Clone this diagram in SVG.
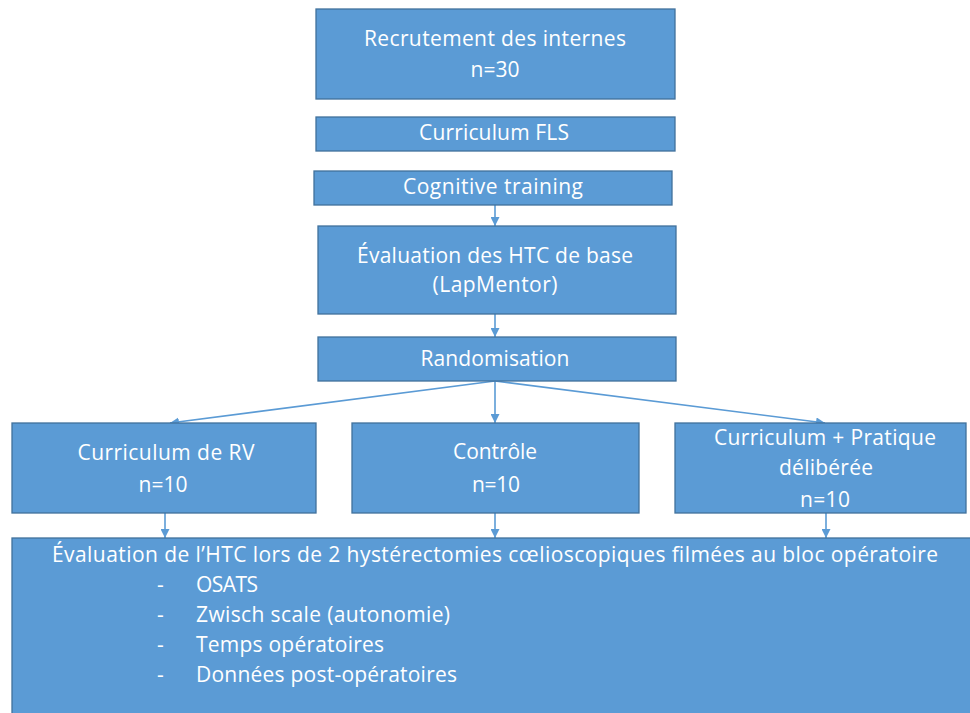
<svg xmlns="http://www.w3.org/2000/svg" width="970" height="713" viewBox="0 0 970 713">
  <style>
    .box { fill: #5B9BD5; stroke: #41719C; stroke-width: 1.3; }
    .t { font-family: "Open Sans", "Noto Sans", "Liberation Sans", sans-serif; font-size: 21px; fill: #FFFFFF; }
    .c { text-anchor: middle; }
    .link { stroke: #5B9BD5; stroke-width: 1.6; fill: none; marker-end: url(#arrow); }
  </style>
  <defs>
    <marker id="arrow" viewBox="0 0 10 10" refX="10" refY="5" markerWidth="9" markerHeight="9" markerUnits="userSpaceOnUse" orient="auto">
      <path d="M0,0 L10,5 L0,10 z" fill="#5B9BD5"/>
    </marker>
  </defs>
  <rect width="970" height="713" fill="#FFFFFF"/>

  <g id="connectors">
    <line class="link" x1="495" y1="205" x2="495" y2="226"/>
    <line class="link" x1="495" y1="314" x2="495" y2="337"/>
    <line class="link" x1="495" y1="381" x2="170" y2="423"/>
    <line class="link" x1="495" y1="381" x2="495" y2="423"/>
    <line class="link" x1="495" y1="381" x2="825" y2="423"/>
    <line class="link" x1="165" y1="513" x2="165" y2="538"/>
    <line class="link" x1="495" y1="513" x2="495" y2="538"/>
    <line class="link" x1="826" y1="513" x2="826" y2="538"/>
  </g>

  <g id="recrutement">
    <rect class="box" x="316" y="9" width="359" height="90"/>
    <text class="t c" x="495" y="46" textLength="262">Recrutement des internes</text>
    <text class="t c" x="495" y="77" textLength="49">n=30</text>
  </g>
  <g id="curriculum-fls">
    <rect class="box" x="316" y="117" width="359" height="34"/>
    <text class="t c" x="494" y="140" textLength="150">Curriculum  FLS</text>
  </g>
  <g id="cognitive">
    <rect class="box" x="314" y="171" width="358" height="34"/>
    <text class="t c" x="493" y="194" textLength="180">Cognitive  training</text>
  </g>
  <g id="evaluation-base">
    <rect class="box" x="318" y="226" width="358" height="88"/>
    <text class="t c" x="495" y="263" textLength="276">Évaluation des HTC de base</text>
    <text class="t c" x="495" y="292" textLength="125">(LapMentor)</text>
  </g>
  <g id="randomisation">
    <rect class="box" x="318" y="337" width="358" height="44"/>
    <text class="t c" x="495" y="366" textLength="149">Randomisation</text>
  </g>
  <g id="curriculum-rv">
    <rect class="box" x="12" y="423" width="304" height="90"/>
    <text class="t c" x="166" y="460" textLength="177">Curriculum  de RV</text>
    <text class="t c" x="163" y="492" textLength="49">n=10</text>
  </g>
  <g id="controle">
    <rect class="box" x="352" y="423" width="287" height="90"/>
    <text class="t c" x="495" y="459" textLength="84">Contrôle</text>
    <text class="t c" x="496" y="492" textLength="48">n=10</text>
  </g>
  <g id="pratique">
    <rect class="box" x="675" y="423" width="291" height="90"/>
    <text class="t c" x="825" y="445" textLength="222">Curriculum  + Pratique</text>
    <text class="t c" x="826" y="475" textLength="94">délibérée</text>
    <text class="t c" x="825" y="507" textLength="50">n=10</text>
  </g>
  <g id="evaluation-finale">
    <rect class="box" x="12" y="538" width="965" height="185"/>
    <text class="t" x="52" y="562" textLength="886">Évaluation de l’HTC lors de 2 hystérectomies cœlioscopiques  filmées au bloc opératoire</text>
    <text class="t" x="157" y="592">-</text>
    <text class="t" x="196" y="592" textLength="62">OSATS</text>
    <text class="t" x="157" y="622">-</text>
    <text class="t" x="196" y="622" textLength="254">Zwisch scale (autonomie)</text>
    <text class="t" x="157" y="652">-</text>
    <text class="t" x="196" y="652" textLength="188">Temps opératoires</text>
    <text class="t" x="157" y="682">-</text>
    <text class="t" x="196" y="682" textLength="261">Données post-opératoires</text>
  </g>
</svg>
